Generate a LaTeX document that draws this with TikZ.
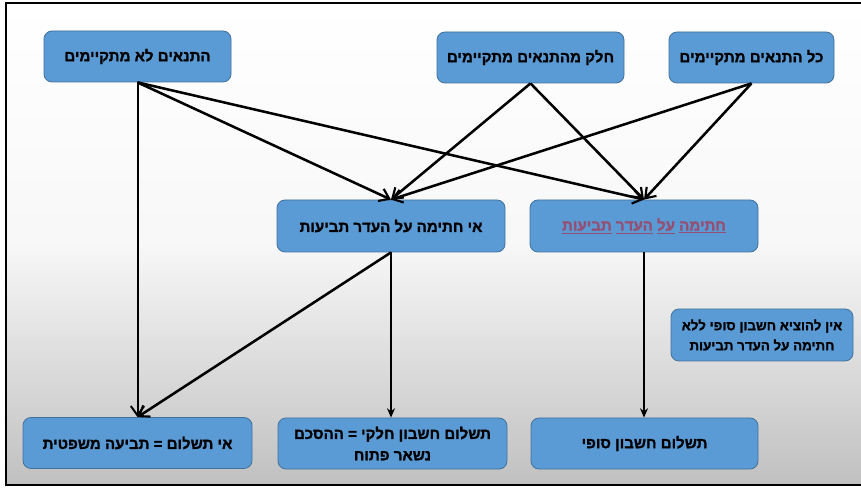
\documentclass[tikz,border=0pt]{standalone}
\usepackage{fontspec}
\usetikzlibrary{arrows.meta}
\TeXXeTstate=1
\newfontfamily\hebfont[Script=Hebrew, FakeBold=1.3]{Liberation Sans Bold}
\newcommand{\heb}[1]{\beginR #1\endR}
\newcommand{\ul}[1]{\underline{\beginR #1\endR}}
\definecolor{boxblue}{RGB}{91,155,213}
\definecolor{boxedge}{RGB}{65,113,156}
\definecolor{linkcol}{RGB}{149,79,114}
\definecolor{bggray}{RGB}{192,192,192}
\tikzset{
  box/.style={rounded corners=6pt, fill=boxblue, draw=boxedge, line width=0.6pt,
    inner sep=0pt, align=center, font=\hebfont\fontsize{11.3pt}{16pt}\selectfont, text=black},
  thick arrow/.style={line width=1.9pt, -{Straight Barb[length=7pt,width=10pt,line width=1.6pt]}},
  mid arrow/.style={line width=1.5pt, -{Straight Barb[length=7pt,width=10pt,line width=1.5pt]}},
  thin arrow/.style={line width=1.2pt, -{Stealth[length=7pt,width=6pt]}},
}
\begin{document}
\begin{tikzpicture}[x=0.75pt,y=-0.75pt]
\useasboundingbox (0,0) rectangle (861,488);
\fill[white] (0,0) rectangle (861,488);
\shade[top color=white, bottom color=bggray, middle color=white!88!bggray] (6,3) rectangle (861,485);
\draw[line width=1.6pt, black] (861,3) -- (6,3) -- (6,485) -- (861,485);

\node[box, minimum width=140.25pt, minimum height=38.25pt] (A) at (137.5,56.5) {\heb{התנאים לא מתקיימים}};
\node[box, minimum width=140.25pt, minimum height=38.25pt] (B) at (530.5,57.5) {\heb{חלק מהתנאים מתקיימים}};
\node[box, minimum width=123.75pt, minimum height=38.25pt] (C) at (751.5,57.5) {\heb{כל התנאים מתקיימים}};
\node[box, minimum width=171pt, minimum height=39pt] (D) at (391,226) {\heb{אי חתימה על העדר תביעות}};
\node[box, minimum width=171pt, minimum height=39pt, text=linkcol] (E) at (644,226) {\beginR\ul{חתימה} \ul{על} \ul{העדר} \ul{תביעות}\endR};
\node[box, minimum width=136.5pt, minimum height=39pt, font=\hebfont\fontsize{10pt}{15pt}\selectfont] (F) at (762,335) {\heb{אין להוציא חשבון סופי ללא}\\\heb{חתימה על העדר תביעות}};
\node[box, minimum width=171.75pt, minimum height=38.25pt] (G) at (137.5,443) {\heb{אי תשלום = תביעה משפטית}};
\node[box, minimum width=171.75pt, minimum height=38.25pt] (H) at (392.5,443.5) {\heb{תשלום חשבון חלקי = ההסכם}\\\heb{נשאר פתוח}};
\node[box, minimum width=170.25pt, minimum height=38.25pt] (I) at (644.5,443.5) {\heb{תשלום חשבון סופי}};

\draw[thick arrow] (A.south) -- (D.north);
\draw[thick arrow] (A.south) -- (E.north);
\draw[mid arrow] (A.south) -- (G.north);
\draw[thick arrow] (B.south) -- (D.north);
\draw[thick arrow] (B.south) -- (E.north);
\draw[thick arrow] (C.south) -- (D.north);
\draw[thick arrow] (C.south) -- (E.north);
\draw[thick arrow] (D.south) -- (G.north);
\draw[thin arrow] (D.south) -- (D.south |- H.north);
\draw[thin arrow] (E.south) -- (E.south |- I.north);
\end{tikzpicture}
\end{document}
